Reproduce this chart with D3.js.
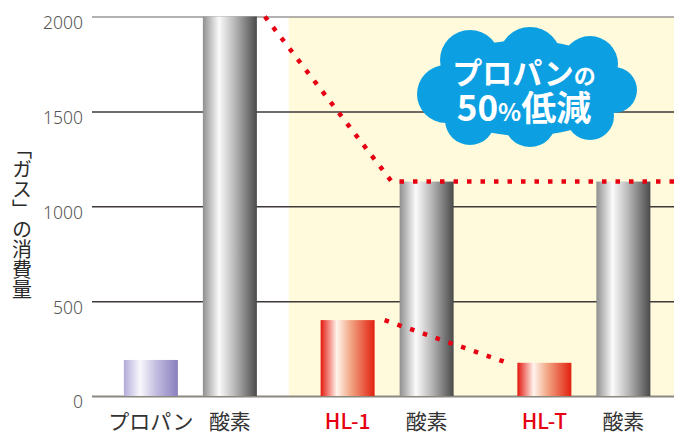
<!DOCTYPE html>
<html>
<head>
<meta charset="utf-8">
<script src="https://cdn.jsdelivr.net/npm/d3@7"></script>
<style>
  body { margin: 0; background: #fff; }
  svg { display: block; }
</style>
</head>
<body>
<svg id="chart" width="674" height="434"></svg>
<script>
// data
var groups = ["プロパン", "HL-1", "HL-T"];
var fuelValues = [190, 400, 175];
var oxygenValues = [2000, 1130, 1130];
var barLabels = ["プロパン", "酸素", "HL-1", "酸素", "HL-T", "酸素"];
var yTicks = [0, 500, 1000, 1500, 2000];

var svg = d3.select("#chart"),
    width = +svg.attr("width"),
    marginLeft = 92,
    plotTop = 16.5,
    plotBottom = 396;

var y = d3.scaleLinear().domain([0, 2000]).range([plotBottom, plotTop]);

var x0 = d3.scaleBand().domain(groups).range([marginLeft, marginLeft + 3 * 196.75]).padding(0);
var x1 = d3.scaleBand().domain(["fuel", "oxygen"]).range([0, x0.bandwidth()])
    .paddingInner(0.3165).paddingOuter(0.4035);

// gradients
var defs = svg.append("defs");
function grad(id, stops) {
    var g = defs.append("linearGradient").attr("id", id)
        .attr("x1", 0).attr("x2", 1).attr("y1", 0).attr("y2", 0);
    stops.forEach(function (s) {
        g.append("stop").attr("offset", s[0]).attr("stop-color", s[1]);
    });
}
grad("gPropane", [[0, "#b2abd8"], [0.3, "#f9f8fd"], [0.6, "#c2bce0"], [1, "#8a7fbe"]]);
grad("gOxygen", [[0, "#8f8f8f"], [0.3, "#fbfbfb"], [0.6, "#b5b5b5"], [1, "#4a4a4a"]]);
grad("gRed", [[0, "#e3180f"], [0.3, "#fff4ec"], [0.55, "#f2a886"], [1, "#e2200f"]]);

// yellow panel behind HL groups
svg.append("rect")
    .attr("x", x0("HL-1"))
    .attr("y", y(2000))
    .attr("width", width - x0("HL-1"))
    .attr("height", y(0) - y(2000))
    .attr("fill", "#fffadb");

// axis + gridlines
var axis = svg.append("g")
    .attr("transform", "translate(" + marginLeft + ",0)")
    .call(d3.axisLeft(y).tickValues(yTicks).tickFormat(d3.format("d"))
        .tickSizeInner(-(width - marginLeft)).tickSizeOuter(0).tickPadding(9));
axis.select(".domain").remove();
axis.selectAll(".tick line")
    .attr("stroke", function (d) { return d === 0 ? "#8c8880" : (d === 2000 ? "#9a9696" : "#3f3a38"); })
    .attr("stroke-width", function (d) { return d === 0 ? 2 : 1.5; });
axis.selectAll(".tick text")
    .attr("dy", "0.68em")
    .attr("fill", "#555")
    .style("font-family", "'Noto Sans', sans-serif")
    .style("font-weight", 300)
    .style("font-size", "17.5px");

// bars
var g = svg.selectAll(".grp")
    .data(groups)
    .enter().append("g")
    .attr("class", "grp")
    .attr("transform", function (d) { return "translate(" + x0(d) + ",0)"; });

g.append("rect")
    .attr("x", x1("fuel"))
    .attr("width", x1.bandwidth())
    .attr("y", function (d, i) { return y(fuelValues[i]); })
    .attr("height", function (d, i) { return y(0) - y(fuelValues[i]); })
    .attr("fill", function (d, i) { return i === 0 ? "url(#gPropane)" : "url(#gRed)"; });

g.append("rect")
    .attr("x", x1("oxygen"))
    .attr("width", x1.bandwidth())
    .attr("y", function (d, i) { return y(oxygenValues[i]); })
    .attr("height", function (d, i) { return y(0) - y(oxygenValues[i]); })
    .attr("fill", "url(#gOxygen)");

// dotted red lines
var ox1Right = x0(groups[0]) + x1("oxygen") + x1.bandwidth();
var ox2Left = x0(groups[1]) + x1("oxygen");
var hl1Right = x0(groups[1]) + x1("fuel") + x1.bandwidth();
var hltLeft = x0(groups[2]) + x1("fuel");

var line = d3.line();
svg.append("path")
    .attr("d", line([[ox1Right + 8, y(oxygenValues[0])], [ox2Left - 8, y(oxygenValues[1])], [width + 10, y(oxygenValues[2])]]))
    .attr("fill", "none")
    .attr("stroke", "#e60012")
    .attr("stroke-width", 4.5)
    .attr("stroke-dasharray", "4.5 9");

svg.append("path")
    .attr("d", line([[hl1Right + 10, y(fuelValues[1])], [hltLeft - 10, y(fuelValues[2])]]))
    .attr("fill", "none")
    .attr("stroke", "#e60012")
    .attr("stroke-width", 4.5)
    .attr("stroke-dasharray", "4.5 9");

// cloud
var cloud = svg.append("g").attr("fill", "#0ca0e3");
cloud.append("ellipse").attr("cx", 525).attr("cy", 88).attr("rx", 95).attr("ry", 48);
[[470, 60, 30], [530, 58, 31], [590, 64, 28], [446, 94, 29], [614, 90, 23],
 [470, 120, 25], [530, 121, 26], [590, 116, 24]].forEach(function (c) {
    cloud.append("circle").attr("cx", c[0]).attr("cy", c[1]).attr("r", c[2]);
});

var t1 = svg.append("text")
    .attr("x", 524).attr("y", 84)
    .attr("text-anchor", "middle")
    .attr("fill", "#fff")
    .style("font-family", "'Noto Sans CJK JP', sans-serif")
    .style("font-weight", 700);
t1.append("tspan").style("font-size", "30px").text("プロパン");
t1.append("tspan").style("font-size", "22px").text("の");

var t2 = svg.append("text")
    .attr("x", 524).attr("y", 121)
    .attr("text-anchor", "middle")
    .attr("fill", "#fff")
    .style("font-family", "'Noto Sans CJK JP', sans-serif")
    .style("font-weight", 700);
t2.append("tspan").style("font-size", "35px").text("50");
t2.append("tspan").style("font-size", "24px").text("%");
t2.append("tspan").style("font-size", "35px").text("低減");

// x labels
var centers = [];
groups.forEach(function (d) {
    centers.push(x0(d) + x1("fuel") + x1.bandwidth() / 2);
    centers.push(x0(d) + x1("oxygen") + x1.bandwidth() / 2);
});
svg.selectAll(".xlab")
    .data(barLabels)
    .enter().append("text")
    .attr("class", "xlab")
    .attr("x", function (d, i) { return centers[i]; })
    .attr("y", 429)
    .attr("text-anchor", "middle")
    .attr("fill", function (d) { return d.indexOf("HL") === 0 ? "#e60012" : "#333"; })
    .style("font-family", "'Noto Sans CJK JP', sans-serif")
    .style("font-weight", function (d) { return d.indexOf("HL") === 0 ? 500 : 400; })
    .style("font-size", "21px")
    .text(function (d) { return d; });

// y title (vertical)
svg.append("text")
    .attr("x", 22).attr("y", 219)
    .attr("text-anchor", "middle")
    .attr("fill", "#2a2a2a")
    .style("writing-mode", "vertical-rl")
    .style("font-family", "'Noto Sans CJK JP', sans-serif")
    .style("font-size", "20px")
    .text("「ガス」の消費量");
</script>
</body>
</html>
